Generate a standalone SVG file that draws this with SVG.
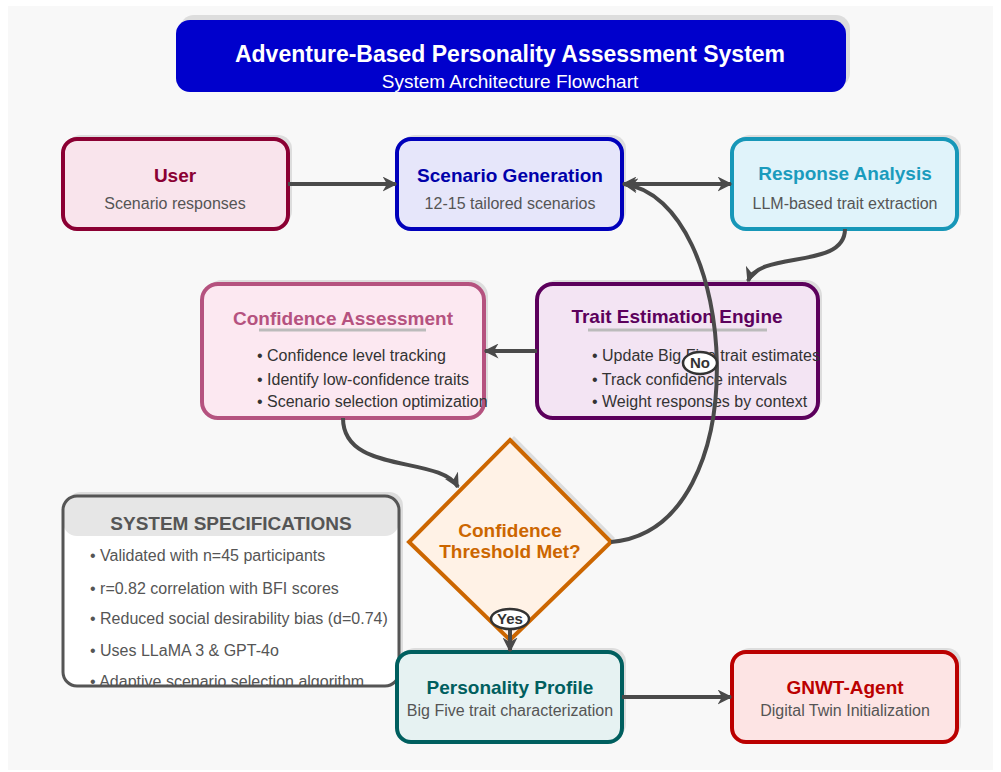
<svg xmlns="http://www.w3.org/2000/svg" width="1001" height="772" viewBox="0 0 1001 772">
<style>
  text { font-family: "Liberation Sans", Arial, sans-serif; }
  .shadow { fill: #dddddd; }
  .ttl { font-size: 19px; font-weight: bold; text-anchor: middle; }
  .sub { font-size: 16px; fill: #555555; text-anchor: middle; }
  .bul { font-size: 16px; fill: #333333; }
  .spec { font-size: 16px; fill: #555555; }
  .conn { fill: none; stroke: #4a4a4a; stroke-width: 4; }
  .lbl { fill: #ffffff; stroke: #333333; stroke-width: 2.5; }
  .lbltxt { font-size: 15px; font-weight: bold; fill: #333333; text-anchor: middle; }
</style>
<defs>
  <marker id="arr" viewBox="0 0 10 10" refX="9" refY="5" markerWidth="15" markerHeight="15" markerUnits="userSpaceOnUse" orient="auto-start-reverse">
    <path d="M0,0 L10,5 L0,10 L3,5 Z" fill="#4a4a4a"/>
  </marker>
  <clipPath id="specclip">
    <rect x="63" y="496" width="336" height="190" rx="14"/>
  </clipPath>
</defs>
<rect x="0" y="0" width="1001" height="772" fill="#ffffff"/>
<rect x="8" y="6" width="985" height="764" fill="#f8f8f8"/>

<g id="title">
  <rect class="shadow" x="180" y="15" width="670" height="72" rx="14"/>
  <rect x="176" y="20" width="670" height="72" rx="14" fill="#0000cc"/>
  <text x="510" y="62" font-size="23" font-weight="bold" fill="#ffffff" text-anchor="middle">Adventure-Based Personality Assessment System</text>
  <text x="510" y="88" font-size="19" fill="#ffffff" text-anchor="middle">System Architecture Flowchart</text>
</g>

<g id="user">
  <rect class="shadow" x="67" y="135" width="225" height="90" rx="14"/>
  <rect x="63" y="139" width="225" height="90" rx="14" fill="#f9e4ec" stroke="#8b0033" stroke-width="4"/>
  <text class="ttl" x="175" y="182" fill="#8b0033">User</text>
  <text class="sub" x="175" y="209">Scenario responses</text>
</g>

<g id="scenario-generation">
  <rect class="shadow" x="401" y="135" width="225" height="90" rx="14"/>
  <rect x="397" y="139" width="225" height="90" rx="14" fill="#e6e6fa" stroke="#0000bb" stroke-width="4"/>
  <text class="ttl" x="510" y="182" fill="#0000aa">Scenario Generation</text>
  <text class="sub" x="510" y="209">12-15 tailored scenarios</text>
</g>

<g id="response-analysis">
  <rect class="shadow" x="736" y="135" width="225" height="90" rx="14"/>
  <rect x="732" y="139" width="225" height="90" rx="14" fill="#e0f3fa" stroke="#1797b8" stroke-width="4"/>
  <text class="ttl" x="845" y="180" fill="#1a9bbd">Response Analysis</text>
  <text class="sub" x="845" y="209">LLM-based trait extraction</text>
</g>

<g id="confidence-assessment">
  <rect class="shadow" x="206" y="280" width="282" height="134" rx="16"/>
  <rect x="202" y="284" width="282" height="134" rx="16" fill="#fce8f1" stroke="#b5527f" stroke-width="4"/>
  <line x1="259" y1="330" x2="426" y2="330" stroke="#bbbbbb" stroke-width="3"/>
  <text class="ttl" x="343" y="325" fill="#b5527f">Confidence Assessment</text>
  <text class="bul" x="257" y="361">• Confidence level tracking</text>
  <text class="bul" x="257" y="385">• Identify low-confidence traits</text>
  <text class="bul" x="257" y="407">• Scenario selection optimization</text>
</g>

<g id="trait-estimation-engine">
  <rect class="shadow" x="541" y="280" width="281" height="134" rx="16"/>
  <rect x="537" y="284" width="281" height="134" rx="16" fill="#f3e4f3" stroke="#5c005c" stroke-width="4"/>
  <line x1="588" y1="330" x2="767" y2="330" stroke="#bbbbbb" stroke-width="3"/>
  <text class="ttl" x="677" y="323" fill="#5c005c">Trait Estimation Engine</text>
  <text class="bul" x="592" y="361">• Update Big Five trait estimates</text>
  <text class="bul" x="592" y="385">• Track confidence intervals</text>
  <text class="bul" x="592" y="407">• Weight responses by context</text>
</g>

<g id="threshold-decision">
  <polygon class="shadow" points="514,436 615,538 514,636 413,538"/>
  <polygon points="510,440 611,542 510,640 409,542" fill="#fff2e6" stroke="#cc6600" stroke-width="4" stroke-linejoin="miter"/>
  <text class="ttl" x="510" y="537" fill="#cc6600">Confidence</text>
  <text class="ttl" x="510" y="558" fill="#cc6600">Threshold Met?</text>
</g>

<g id="system-specifications">
  <rect class="shadow" x="67" y="492" width="336" height="190" rx="14"/>
  <rect x="63" y="496" width="336" height="190" rx="14" fill="#ffffff"/>
  <g clip-path="url(#specclip)">
    <rect x="63" y="496" width="336" height="40" rx="14" fill="#e6e6e6"/>
    <text x="231" y="530" font-size="19" font-weight="bold" fill="#555555" text-anchor="middle">SYSTEM SPECIFICATIONS</text>
    <text class="spec" x="90" y="561">• Validated with n=45 participants</text>
    <text class="spec" x="90" y="594">• r=0.82 correlation with BFI scores</text>
    <text class="spec" x="90" y="624">• Reduced social desirability bias (d=0.74)</text>
    <text class="spec" x="90" y="656">• Uses LLaMA 3 &amp; GPT-4o</text>
    <text class="spec" x="90" y="687">• Adaptive scenario selection algorithm</text>
  </g>
  <rect x="63" y="496" width="336" height="190" rx="14" fill="none" stroke="#555555" stroke-width="3"/>
</g>

<g id="personality-profile">
  <rect class="shadow" x="401" y="648" width="225" height="90" rx="14"/>
  <rect x="397" y="652" width="225" height="90" rx="14" fill="#e6f2f2" stroke="#005f5f" stroke-width="4"/>
  <text class="ttl" x="510" y="694" fill="#005f5f">Personality Profile</text>
  <text class="sub" x="510" y="716">Big Five trait characterization</text>
</g>

<g id="gnwt-agent">
  <rect class="shadow" x="736" y="648" width="225" height="90" rx="14"/>
  <rect x="732" y="652" width="225" height="90" rx="14" fill="#fde4e4" stroke="#bb0000" stroke-width="4"/>
  <text class="ttl" x="845" y="694" fill="#bb0000">GNWT-Agent</text>
  <text class="sub" x="845" y="716">Digital Twin Initialization</text>
</g>

<g id="connectors">
  <line class="conn" x1="288" y1="184" x2="396" y2="184" marker-end="url(#arr)"/>
  <line class="conn" x1="623" y1="184" x2="731" y2="184" marker-start="url(#arr)" marker-end="url(#arr)"/>
  <path class="conn" d="M845,229 C845,270 760,250 748,281" marker-end="url(#arr)"/>
  <line class="conn" x1="537" y1="351" x2="485" y2="351" marker-end="url(#arr)"/>
  <path class="conn" d="M343,418 C343,475 440,455 458,487" marker-end="url(#arr)"/>
  <path class="conn" d="M611,542 C760,530 740,200 624,184" marker-end="url(#arr)"/>
  <line class="conn" x1="510" y1="628" x2="510" y2="651" marker-end="url(#arr)"/>
  <line class="conn" x1="622" y1="697" x2="731" y2="697" marker-end="url(#arr)"/>
</g>

<g id="edge-labels">
  <ellipse class="lbl" cx="700" cy="363" rx="17" ry="11"/>
  <text class="lbltxt" x="700" y="368">No</text>
  <ellipse class="lbl" cx="510" cy="619" rx="19" ry="10"/>
  <text class="lbltxt" x="510" y="624">Yes</text>
</g>
</svg>
